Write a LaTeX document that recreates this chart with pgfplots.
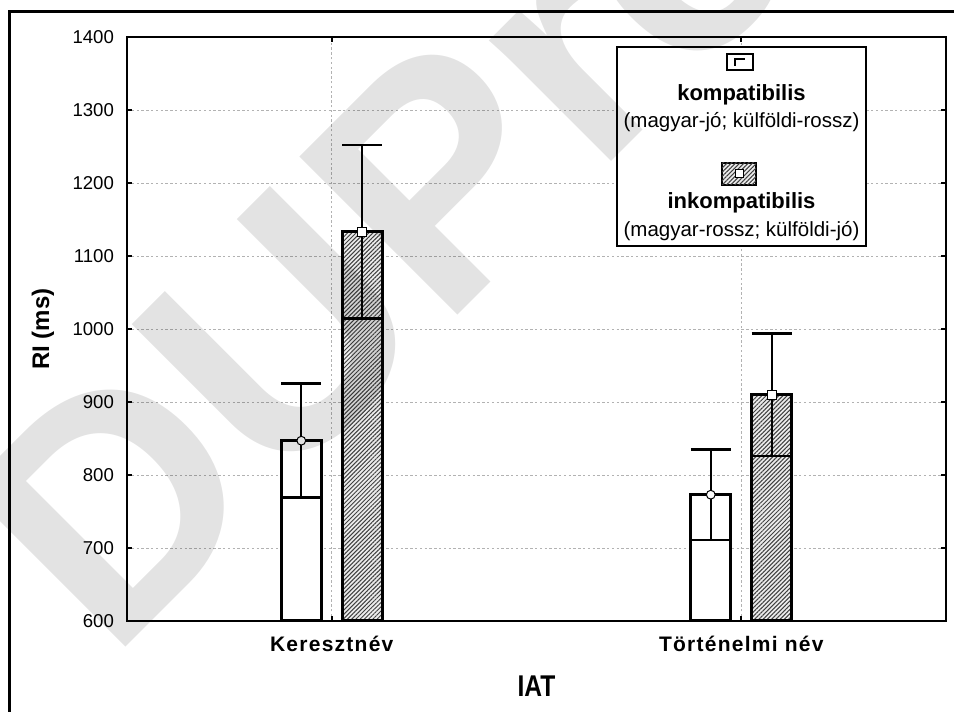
\documentclass[border=0pt]{standalone}
\usepackage{fontspec}
\setmainfont{Liberation Sans}
\usepackage{pgfplots}
\pgfplotsset{compat=1.18}
\usetikzlibrary{patterns.meta}

\begin{document}
\begin{tikzpicture}[x=1pt,y=1pt]
\useasboundingbox (-63.5,-45.5) rectangle (413.5,310.5);
\draw[line width=1.5pt] (-58.5,-60) -- (-58.5,304.5) -- (430,304.5);
\begin{axis}[
  at={(0,0)}, anchor=south west,
  scale only axis, width=409.5pt, height=292pt,
  xmin=-0.5, xmax=1.5, ymin=600, ymax=1400,
  xtick={0,1}, xticklabels={Keresztnév, Történelmi név},
  ytick={600,700,...,1400},
  tick align=inside, major tick length=2.5pt,
  tick style={black, line width=0.8pt},
  grid=major, major grid style={dash pattern=on 1.2pt off 1.2pt, gray!60, line width=0.4pt},
  axis line style={line width=1pt},
  /pgf/number format/assume math mode=true,
  /pgf/number format/1000 sep={},
  yticklabel style={font=\fontsize{9.3}{10}\selectfont, xshift=-3pt},
  xticklabel style={font=\bfseries\fontsize{10.5}{12}\selectfont\addfontfeatures{LetterSpace=6}, yshift=-4pt},
  xlabel={IAT},
  xlabel style={font=\bfseries\fontsize{15}{16}\selectfont\addfontfeatures{FakeStretch=0.82}, at={(axis description cs:0.5,-0.1113)}, anchor=center},
  ylabel={RI (ms)},
  every axis y label/.style={font=\bfseries\fontsize{12}{13}\selectfont, at={(axis description cs:-0.1026,0.5)}, rotate=90, anchor=center},
]
\addplot[ybar, bar width=20pt, bar shift=0pt, fill=white, draw=black, line width=1.5pt,
  error bars/.cd, y dir=both, y explicit, error mark=|,
  error mark options={mark size=10pt, line width=1.4pt, black},
  error bar style={line width=0.9pt, black}]
  coordinates {(-0.0744,847) +- (0,78) (0.9256,773) +- (0,62)};
\addplot[ybar, bar width=20pt, bar shift=0pt, fill=gray!15, draw=black, line width=1.5pt,
  postaction={pattern={Lines[angle=45,distance=1.5pt,line width=0.5pt]}, pattern color=black!75},
  error bars/.cd, y dir=both, y explicit, error mark=|,
  error mark options={mark size=10pt, line width=1.4pt, black},
  error bar style={line width=0.9pt, black}]
  coordinates {(0.0744,1133) +- (0,119) (1.0744,910) +- (0,84)};
\addplot[only marks, mark=*, mark size=2.2pt, mark options={fill=white, draw=black, line width=0.5pt}]
  coordinates {(-0.0744,847) (0.9256,773)};
\addplot[only marks, mark=square*, mark size=2.2pt, mark options={fill=white, draw=black, line width=0.5pt}]
  coordinates {(0.0744,1133) (1.0744,910)};
\end{axis}
% legend
\draw[line width=1pt, fill=white] (245,187.5) rectangle (369.5,287);
\draw[line width=0.6pt, fill=white] (300,275.5) rectangle (313,283.5);
\draw[line width=1pt] (304,277.5) -- (304,281) -- (309,281);
\node[anchor=base, inner sep=0pt, font=\bfseries\fontsize{11}{12}\selectfont] at (307.25,260) {kompatibilis};
\node[anchor=base, inner sep=0pt, font=\fontsize{10.25}{12}\selectfont] at (307.25,246.5) {(magyar-jó; külföldi-rossz)};
\draw[line width=1.2pt, fill=gray!15, postaction={pattern={Lines[angle=45,distance=1.5pt,line width=0.5pt]}, pattern color=black!75}] (297.4,218) rectangle (314.6,229);
\draw[line width=0.5pt, fill=white] (304,221.5) rectangle (308,225.5);
\node[anchor=base, inner sep=0pt, font=\bfseries\fontsize{11}{12}\selectfont] at (307.25,206) {inkompatibilis};
\node[anchor=base, inner sep=0pt, font=\fontsize{10.25}{12}\selectfont] at (307.25,192) {(magyar-rossz; külföldi-jó)};
% watermark
\begin{scope}
\clip (-63.5,-45.5) rectangle (413.5,310.5);
\node[rotate=45, anchor=base west, inner sep=0pt, text=black, opacity=0.11, font=\bfseries\fontsize{162.5}{170}\selectfont] at (-8.5,-21) {DUPress};
\end{scope}
\end{tikzpicture}
\end{document}
